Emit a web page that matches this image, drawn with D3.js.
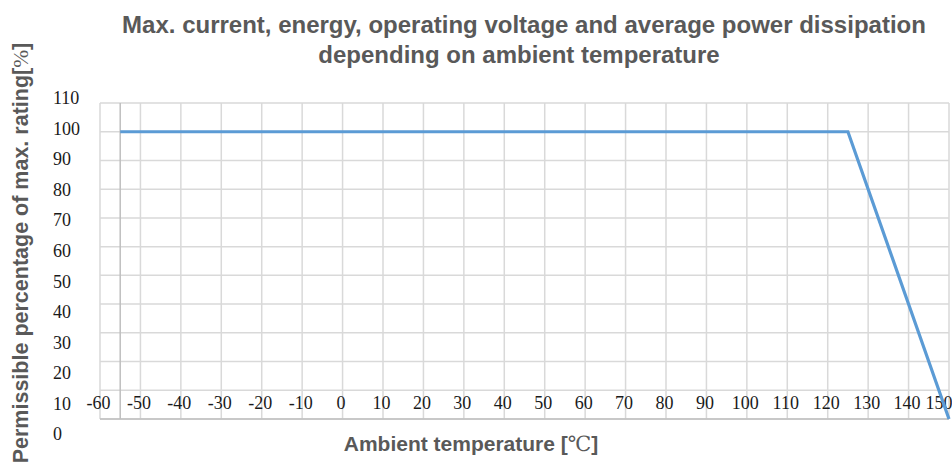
<!DOCTYPE html>
<html>
<head>
<meta charset="utf-8">
<script src="https://cdn.jsdelivr.net/npm/d3@7"></script>
<style>
  body { margin: 0; background: #fff; }
  svg { display: block; }
  .serif { font-family: "Liberation Serif", "Tinos", "Times New Roman", Times, "DejaVu Serif", "Noto Serif", "FreeSerif", serif; }
</style>
</head>
<body>
<div id="chart"></div>
<script>
// data
var temps = [-55, 125, 150];
var ratings = [100, 100, 0];
var xTicks = [-60, -50, -40, -30, -20, -10, 0, 10, 20, 30, 40, 50, 60, 70, 80, 90, 100, 110, 120, 130, 140, 150];
var yTicks = [0, 10, 20, 30, 40, 50, 60, 70, 80, 90, 100, 110];

var width = 952, height = 466;

var svg = d3.select("#chart").append("svg")
    .attr("width", width)
    .attr("height", height);

// plot area
var xScale = d3.scaleLinear().domain([-60, 150]).range([100, 949]);
var yScale = d3.scaleLinear().domain([0, 110]).range([419, 103]);
// the tick labels in the picture sit on their own, slightly wider spacing
var yLabelScale = d3.scaleLinear().domain([0, 110]).range([434, 98]);

// horizontal grid
svg.append("g")
    .selectAll("line")
    .data(yTicks)
    .enter().append("line")
    .attr("x1", xScale(-60))
    .attr("x2", xScale(150))
    .attr("y1", function(d) { return yScale(d); })
    .attr("y2", function(d) { return yScale(d); })
    .attr("stroke", "#d9d9d9")
    .attr("stroke-width", 1.5);

// vertical grid
svg.append("g")
    .selectAll("line")
    .data(xTicks)
    .enter().append("line")
    .attr("x1", function(d) { return xScale(d); })
    .attr("x2", function(d) { return xScale(d); })
    .attr("y1", yScale(110))
    .attr("y2", yScale(0))
    .attr("stroke", "#d9d9d9")
    .attr("stroke-width", 1.5);

// vertical axis crosses at -55
svg.append("line")
    .attr("x1", xScale(-55)).attr("x2", xScale(-55))
    .attr("y1", yScale(110)).attr("y2", yScale(0))
    .attr("stroke", "#bfbfbf")
    .attr("stroke-width", 1.5);

// bottom axis line
svg.append("line")
    .attr("x1", xScale(-60)).attr("x2", xScale(150))
    .attr("y1", yScale(0)).attr("y2", yScale(0))
    .attr("stroke", "#bfbfbf")
    .attr("stroke-width", 1.5);

// x tick labels (drawn inside the plot, above the axis line)
var xAxis = d3.axisBottom(xScale).tickValues(xTicks).tickSize(0).tickPadding(0)
    .tickFormat(function(d) { return String(d); });
var gx = svg.append("g")
    .attr("transform", "translate(0,396)")
    .call(xAxis);
gx.attr("font-family", "Liberation Serif").attr("font-size", 18);
gx.select(".domain").remove();
gx.selectAll("text")
    .attr("class", "serif")
    .attr("dx", "-2")
    .style("fill", "#1a1a1a");
// last label sits against the right edge
gx.selectAll("text").filter(function(d) { return d === 150; })
    .attr("text-anchor", "end")
    .attr("dx", 952 - xScale(150));

// y tick labels, left aligned
var yAxis = d3.axisLeft(yLabelScale).tickValues(yTicks).tickSize(0).tickPadding(0);
var gy = svg.append("g")
    .attr("transform", "translate(53,0)")
    .call(yAxis);
gy.attr("font-family", "Liberation Serif").attr("font-size", 18);
gy.select(".domain").remove();
gy.selectAll("text")
    .attr("class", "serif")
    .attr("text-anchor", "start")
    .attr("x", 0)
    .style("fill", "#1a1a1a");

// the curve
var line = d3.line()
    .x(function(d, i) { return xScale(temps[i]); })
    .y(function(d) { return yScale(d); });

svg.append("path")
    .attr("d", line(ratings))
    .attr("fill", "none")
    .attr("stroke", "#5b9bd5")
    .attr("stroke-width", 3.2);

// titles
var title = svg.append("text")
    .attr("text-anchor", "middle")
    .style("font-family", "'Liberation Sans', Arial, sans-serif")
    .style("font-weight", "bold")
    .style("font-size", "24px")
    .style("fill", "#595959");
title.append("tspan").attr("x", 524).attr("y", 33)
    .text("Max. current, energy, operating voltage and average power dissipation");
title.append("tspan").attr("x", 519).attr("y", 63)
    .text("depending on ambient temperature");

var xTitle = svg.append("text")
    .attr("x", 471)
    .attr("y", 451)
    .attr("text-anchor", "middle")
    .style("font-family", "'Liberation Sans', Arial, sans-serif")
    .style("font-weight", "bold")
    .style("font-size", "21px")
    .style("fill", "#595959");
xTitle.append("tspan").text("Ambient temperature [");
xTitle.append("tspan")
    .attr("class", "serif")
    .style("font-weight", "normal")
    .text("℃");
xTitle.append("tspan").text("]");

var yTitle = svg.append("text")
    .attr("transform", "translate(28,253) rotate(-90)")
    .attr("text-anchor", "middle")
    .style("font-family", "'Liberation Sans', Arial, sans-serif")
    .style("font-weight", "bold")
    .style("font-size", "21.5px")
    .style("fill", "#595959");
yTitle.append("tspan").text("Permissible percentage of max. rating[");
yTitle.append("tspan")
    .attr("class", "serif")
    .style("font-weight", "normal")
    .text("%");
yTitle.append("tspan").text("]");
</script>
</body>
</html>
